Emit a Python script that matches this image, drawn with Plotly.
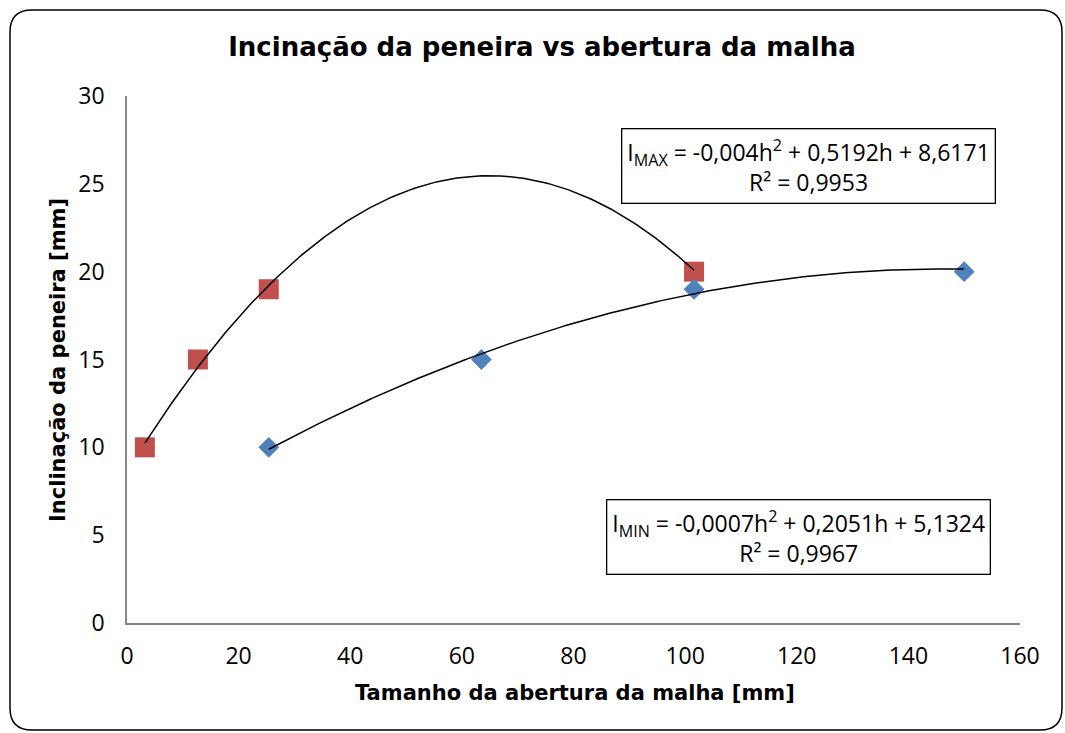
import numpy as np
import plotly.graph_objects as go

# Data
max_h = [3.2, 12.7, 25.4, 101.6]
max_i = [10, 15, 19, 20]
min_h = [25.4, 63.5, 101.6, 150]
min_i = [10, 15, 19, 20]
max_coef = [-0.004, 0.5192, 8.6171]
min_coef = [-0.0007, 0.2051, 5.1324]
max_r2 = "0,9953"
min_r2 = "0,9967"

W, H = 1065, 733
L, R, T, B = 127, 45, 96, 110
pw, ph = W - L - R, H - T - B

def px2paper(x, y):
    return (x - L) / pw, (H - B - y) / ph

fig = go.Figure()

def trend(coef, hs):
    xs = np.linspace(min(hs), max(hs), 200)
    ys = coef[0] * xs**2 + coef[1] * xs + coef[2]
    return xs, ys

xs, ys = trend(max_coef, max_h)
fig.add_trace(go.Scatter(x=max_h, y=max_i, mode="markers",
                         marker=dict(symbol="square", size=20, color="#C0504D"),
                         showlegend=False))
fig.add_trace(go.Scatter(x=min_h, y=min_i, mode="markers",
                         marker=dict(symbol="diamond", size=16, color="#4F81BD"),
                         showlegend=False))
fig.add_trace(go.Scatter(x=xs, y=ys, mode="lines", line=dict(color="black", width=1.5),
                         showlegend=False))
xs2, ys2 = trend(min_coef, min_h)
fig.add_trace(go.Scatter(x=xs2, y=ys2, mode="lines", line=dict(color="black", width=1.5),
                         showlegend=False))

# Rounded outer border
x0, x1, y0, y1 = 10, 1062, 10, 730
r = 22
def P(x, y):
    a, b = px2paper(x, y)
    return f"{a:.5f},{b:.5f}"
path = (f"M {P(x0+r,y0)} L {P(x1-r,y0)} Q {P(x1,y0)} {P(x1,y0+r)} "
        f"L {P(x1,y1-r)} Q {P(x1,y1)} {P(x1-r,y1)} L {P(x0+r,y1)} "
        f"Q {P(x0,y1)} {P(x0,y1-r)} L {P(x0,y0+r)} Q {P(x0,y0)} {P(x0+r,y0)} Z")
fig.add_shape(type="path", path=path, xref="paper", yref="paper",
              line=dict(color="black", width=1.5), layer="below")

def fmt(c):
    return f"{c}".replace(".", ",")

txt_max = (f"I<sub>MAX</sub> = {fmt(max_coef[0])}h<sup>2</sup> + {fmt(max_coef[1])}h + {fmt(max_coef[2])}"
           f"<br>R² = {max_r2}")
txt_min = (f"I<sub>MIN</sub> = {fmt(min_coef[0])}h<sup>2</sup> + {fmt(min_coef[1])}h + {fmt(min_coef[2])}"
           f"<br>R² = {min_r2}")

def ann(text, px, py, **kw):
    ax, ay = px2paper(px, py)
    fig.add_annotation(text=text, x=ax, y=ay, xref="paper", yref="paper", showarrow=False,
                       xanchor="center", yanchor="middle", **kw)

ann(txt_max, 808, 166, font=dict(family="Open Sans", size=23, color="black"),
    bordercolor="black", borderwidth=1.3, borderpad=5, bgcolor="white", align="center")
ann(txt_min, 798, 537, font=dict(family="Open Sans", size=23, color="black"),
    bordercolor="black", borderwidth=1.3, borderpad=5, bgcolor="white", align="center")

# Axis titles
ann("<b>Tamanho da abertura da malha [mm]</b>", 575, 693,
    font=dict(family="DejaVu Sans", size=21, color="black"))
ann("<b>Inclinação da peneira [mm]</b>", 58, 360, textangle=-90,
    font=dict(family="DejaVu Sans", size=21, color="black"))

fig.update_layout(
    width=W, height=H,
    margin=dict(l=L, r=R, t=T, b=B),
    paper_bgcolor="white", plot_bgcolor="white",
    title=dict(text="<b>Incinação da peneira vs abertura da malha</b>",
               x=542 / W, xanchor="center", y=1 - 47 / H, yanchor="middle",
               font=dict(family="DejaVu Sans", size=26, color="black")),
    xaxis=dict(range=[0, 160], dtick=20, showgrid=False, zeroline=False,
               showline=True, linecolor="#868686", linewidth=1.5, ticks="",
               tickfont=dict(family="Open Sans", size=23, color="black"),
               ticklabelstandoff=12),
    yaxis=dict(range=[0, 30], dtick=5, showgrid=False, zeroline=False,
               showline=True, linecolor="#868686", linewidth=1.5, ticks="",
               tickfont=dict(family="Open Sans", size=23, color="black"),
               ticklabelstandoff=16),
)

fig.write_html("out.html")
